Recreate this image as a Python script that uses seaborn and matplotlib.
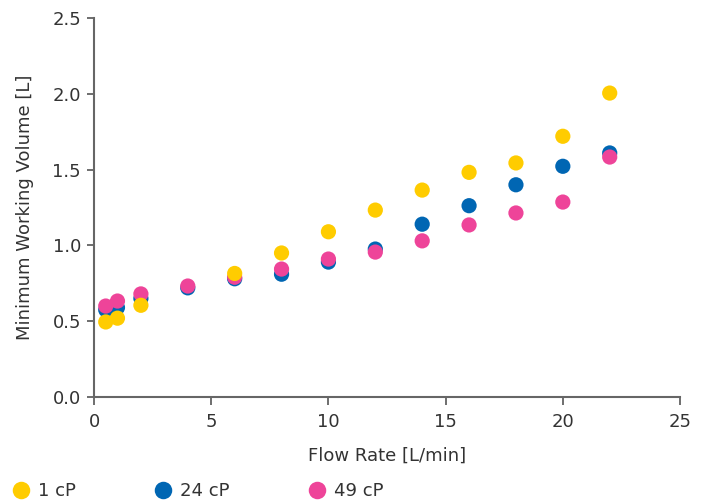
import pandas as pd
import matplotlib.pyplot as plt
import seaborn as sns

# Data
flow_1cp = [0.5, 1, 2, 6, 8, 10, 12, 14, 16, 18, 20, 22]
vol_1cp = [0.495, 0.52, 0.605, 0.815, 0.95, 1.09, 1.233, 1.365, 1.482, 1.544, 1.72, 2.005]

flow_24cp = [0.5, 1, 2, 4, 6, 8, 10, 12, 14, 16, 18, 20, 22]
vol_24cp = [0.575, 0.59, 0.65, 0.72, 0.78, 0.81, 0.89, 0.976, 1.14, 1.262, 1.40, 1.522, 1.61]

flow_49cp = [0.5, 1, 2, 4, 6, 8, 10, 12, 14, 16, 18, 20, 22]
vol_49cp = [0.60, 0.633, 0.68, 0.732, 0.79, 0.844, 0.91, 0.956, 1.03, 1.135, 1.214, 1.286, 1.583]

labels = ["1 cP", "24 cP", "49 cP"]
colors = ["#FFCC00", "#0066B3", "#EE4499"]

# drawing order: blue, pink, then yellow on top
df = pd.concat([
    pd.DataFrame({"flow": flow_24cp, "vol": vol_24cp, "visc": "24 cP"}),
    pd.DataFrame({"flow": flow_49cp, "vol": vol_49cp, "visc": "49 cP"}),
    pd.DataFrame({"flow": flow_1cp, "vol": vol_1cp, "visc": "1 cP"}),
])

fs = 13
sns.set_style("white")
fig = plt.figure(figsize=(7.08, 5.01), dpi=100)
ax = fig.add_axes([0.1328, 0.2076, 0.8277, 0.7564])

sns.scatterplot(data=df, x="flow", y="vol", hue="visc", hue_order=labels,
                palette=colors, s=120, linewidth=0, ax=ax)

ax.set_xlim(0, 25)
ax.set_ylim(0, 2.5)
ax.set_xticks([0, 5, 10, 15, 20, 25])
ax.set_yticks([0, 0.5, 1.0, 1.5, 2.0, 2.5])
ax.set_yticklabels(["0.0", "0.5", "1.0", "1.5", "2.0", "2.5"])
ax.set_xlabel("Flow Rate [L/min]", fontsize=fs, color="#333333", labelpad=11.5)
ax.set_ylabel("Minimum Working Volume [L]", fontsize=fs, color="#333333", labelpad=13)
ax.tick_params(axis="both", length=5.4, width=1.2, color="#555555",
               labelsize=fs, labelcolor="#333333", direction="out",
               bottom=True, left=True)
ax.tick_params(axis="x", pad=6)
ax.tick_params(axis="y", pad=4)
sns.despine(ax=ax)
for sp in ["left", "bottom"]:
    ax.spines[sp].set_color("#666666")
    ax.spines[sp].set_linewidth(1.5)

sns.move_legend(ax, "center left", bbox_to_anchor=(11.5 / 708, 1 - 491 / 501),
                bbox_transform=fig.transFigure, ncol=3, frameon=False,
                title=None, fontsize=fs, columnspacing=4.35, borderpad=0,
                borderaxespad=0, handletextpad=0.45, handlelength=1.0,
                markerscale=1.15)
for t in ax.get_legend().get_texts():
    t.set_color("#333333")

fig.savefig("out.png", dpi=100)
